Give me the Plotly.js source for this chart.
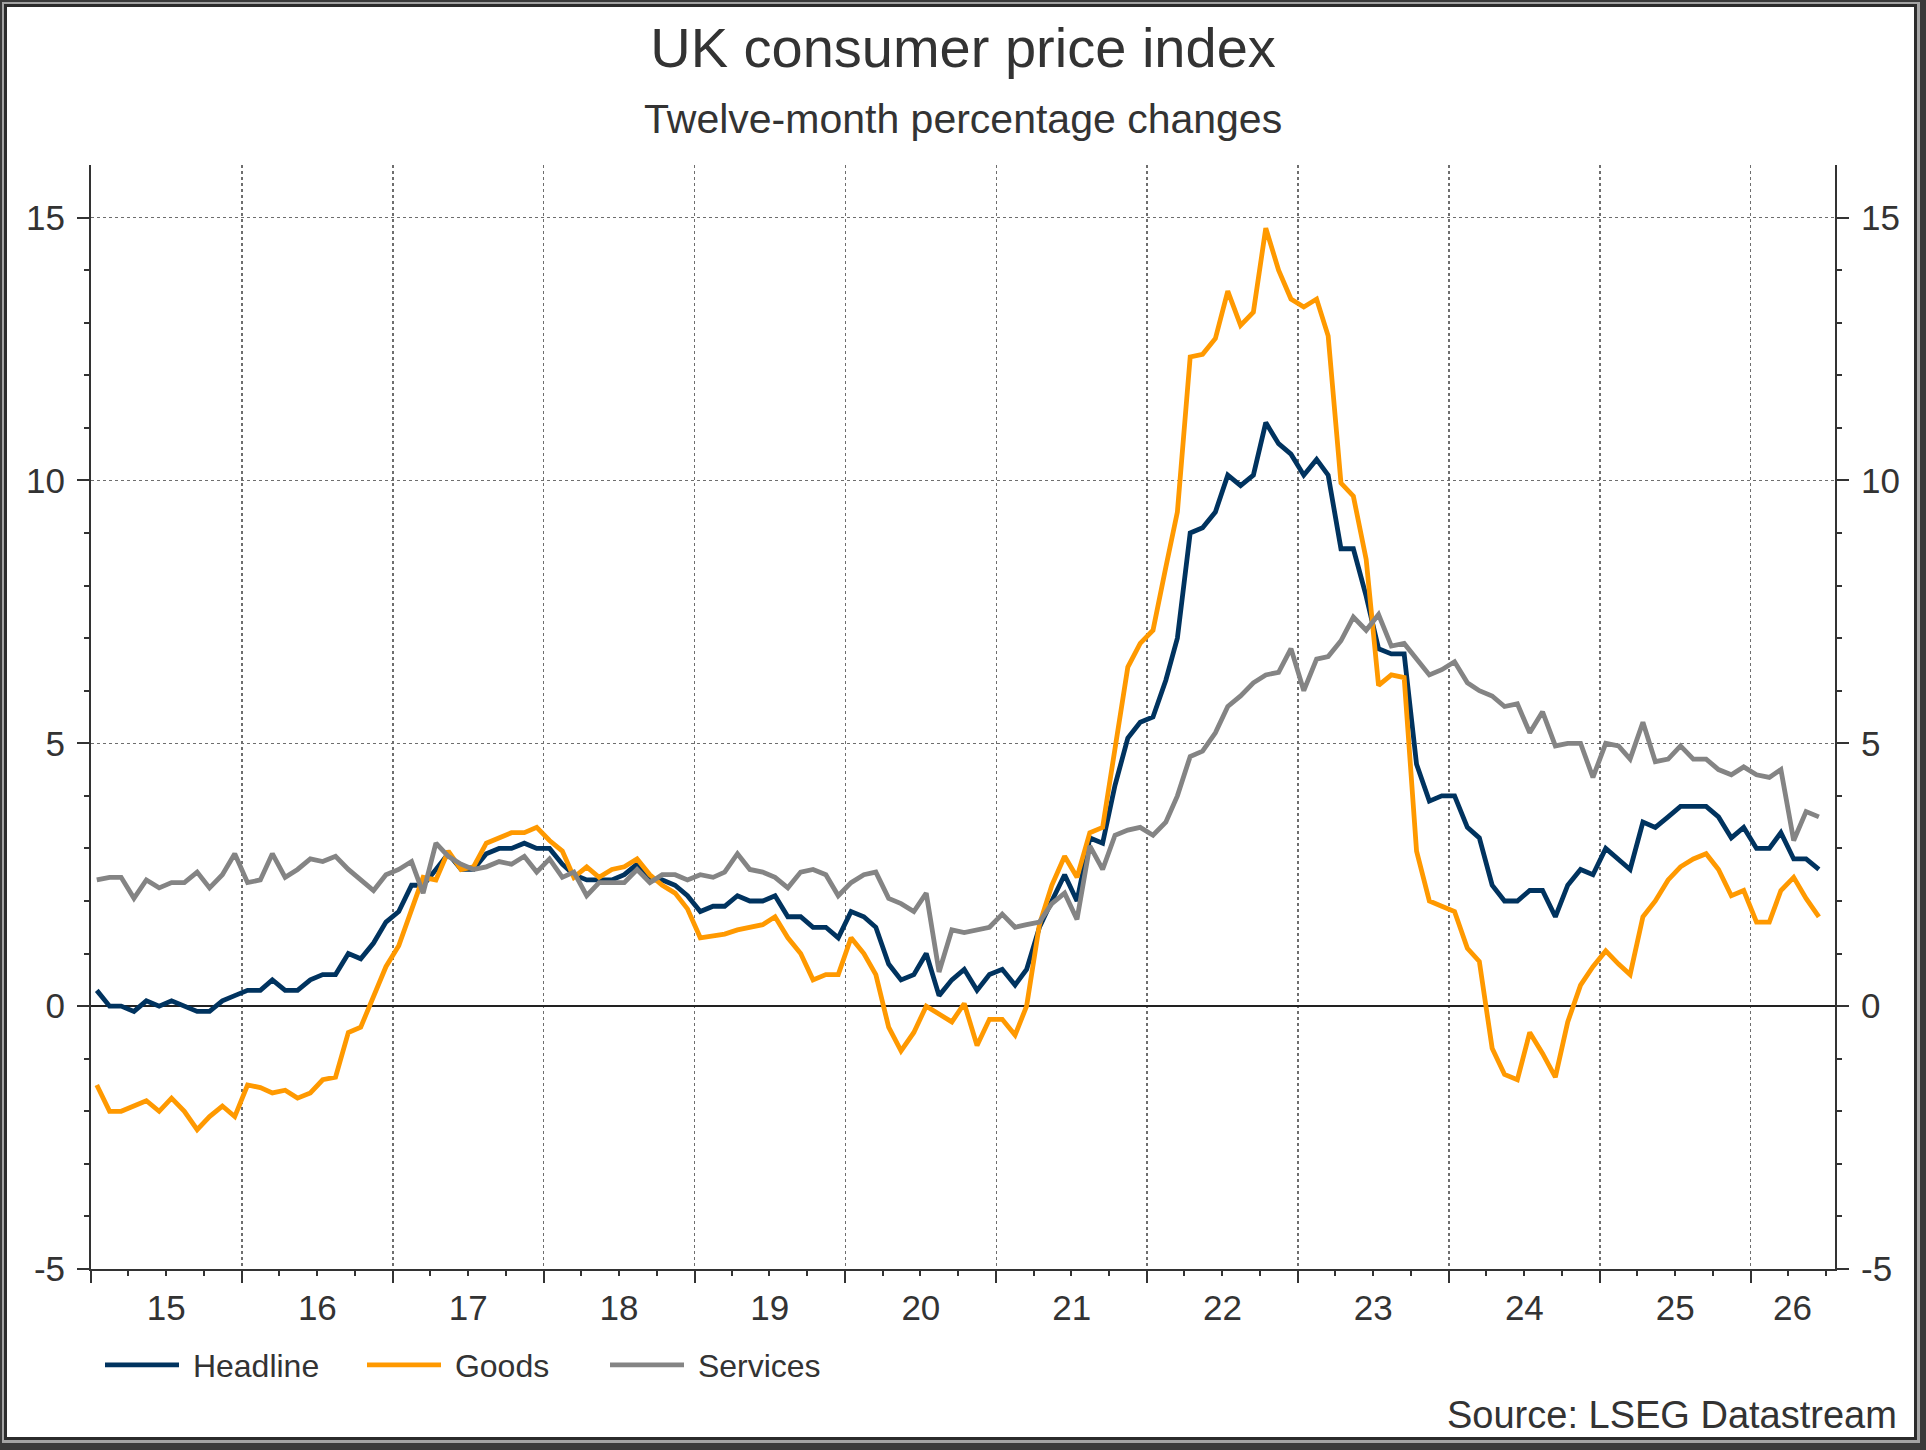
<!DOCTYPE html>
<html>
<head>
<meta charset="utf-8">
<script src="https://cdn.plot.ly/plotly-3.0.1.min.js"></script>
<style>
  html, body { margin: 0; padding: 0; background: #ffffff; }
  #wrap { position: relative; width: 1926px; height: 1450px; overflow: hidden; background: #3a3a3a; }
  #gap { position: absolute; left: 2px; top: 2px; width: 1918px; height: 1441px; background: #a3a3a3; }
  #panel { position: absolute; left: 4px; top: 4px; width: 1913px; height: 1436px; box-sizing: border-box;
           border: 3px solid #2b2b2b; background: #ffffff; }
  #chart { position: absolute; left: 0; top: 0; width: 1926px; height: 1450px; }
</style>
</head>
<body>
<div id="wrap">
  <div id="gap"></div>
  <div id="panel"></div>
  <div id="chart"></div>
</div>
<script>
// Monthly twelve-month CPI inflation rates, January 2015 to June 2026 (one row per year)
const headline = [
   0.3,  0.0,  0.0, -0.1,  0.1,  0.0,  0.1,  0.0, -0.1, -0.1,  0.1,  0.2,  // 2015
   0.3,  0.3,  0.5,  0.3,  0.3,  0.5,  0.6,  0.6,  1.0,  0.9,  1.2,  1.6,  // 2016
   1.8,  2.3,  2.3,  2.6,  2.9,  2.6,  2.6,  2.9,  3.0,  3.0,  3.1,  3.0,  // 2017
   3.0,  2.7,  2.5,  2.4,  2.4,  2.4,  2.5,  2.7,  2.4,  2.4,  2.3,  2.1,  // 2018
   1.8,  1.9,  1.9,  2.1,  2.0,  2.0,  2.1,  1.7,  1.7,  1.5,  1.5,  1.3,  // 2019
   1.8,  1.7,  1.5,  0.8,  0.5,  0.6,  1.0,  0.2,  0.5,  0.7,  0.3,  0.6,  // 2020
   0.7,  0.4,  0.7,  1.5,  2.0,  2.5,  2.0,  3.2,  3.1,  4.2,  5.1,  5.4,  // 2021
   5.5,  6.2,  7.0,  9.0,  9.1,  9.4, 10.1,  9.9, 10.1, 11.1, 10.7, 10.5,  // 2022
  10.1, 10.4, 10.1,  8.7,  8.7,  7.8,  6.8,  6.7,  6.7,  4.6,  3.9,  4.0,  // 2023
   4.0,  3.4,  3.2,  2.3,  2.0,  2.0,  2.2,  2.2,  1.7,  2.3,  2.6,  2.5,  // 2024
   3.0,  2.8,  2.6,  3.5,  3.4,  3.6,  3.8,  3.8,  3.8,  3.6,  3.2,  3.4,  // 2025
   3.0,  3.0,  3.3,  2.8,  2.8,  2.6                                        // 2026
];

const goods = [
  -1.5, -2.0, -2.0, -1.9, -1.8, -2.0, -1.75, -2.0, -2.35, -2.1, -1.9, -2.1, // 2015
  -1.5, -1.55, -1.65, -1.6, -1.75, -1.65, -1.4, -1.35, -0.5, -0.4, 0.2, 0.75, // 2016
   1.15, 1.8,  2.45, 2.4,  2.95, 2.6,  2.65, 3.1,  3.2,  3.3,  3.3,  3.4,  // 2017
   3.15, 2.95, 2.45, 2.65, 2.45, 2.6,  2.65, 2.8,  2.5,  2.3,  2.15, 1.85, // 2018
   1.3,  1.33, 1.37, 1.45, 1.5,  1.55, 1.7,  1.3,  1.0,  0.5,  0.6,  0.6,  // 2019
   1.3,  1.0,  0.6, -0.4, -0.85, -0.5, 0.0, -0.15, -0.3, 0.05, -0.75, -0.25, // 2020
  -0.25, -0.55, 0.0, 1.55, 2.3,  2.85, 2.45, 3.3,  3.4,  4.9,  6.45, 6.9,  // 2021
   7.15, 8.35, 9.4, 12.35, 12.4, 12.7, 13.6, 12.95, 13.2, 14.8, 14.0, 13.45, // 2022
  13.3, 13.45, 12.75, 9.95, 9.7, 8.5,  6.1,  6.3,  6.25, 2.95, 2.0,  1.9,  // 2023
   1.8,  1.1,  0.85, -0.8, -1.3, -1.4, -0.5, -0.9, -1.35, -0.3, 0.4, 0.75, // 2024
   1.05, 0.8,  0.6,  1.7,  2.0,  2.4,  2.65, 2.8,  2.9,  2.6,  2.1,  2.2,  // 2025
   1.6,  1.6,  2.2,  2.45, 2.05, 1.7                                       // 2026
];

const services = [
   2.4,  2.45, 2.45, 2.05, 2.4,  2.25, 2.35, 2.35, 2.55, 2.25, 2.5,  2.9,  // 2015
   2.35, 2.4,  2.9,  2.45, 2.6,  2.8,  2.75, 2.85, 2.6,  2.4,  2.2,  2.5,  // 2016
   2.6,  2.75, 2.15, 3.1,  2.85, 2.7,  2.6,  2.65, 2.75, 2.7,  2.85, 2.55, // 2017
   2.8,  2.45, 2.55, 2.1,  2.35, 2.35, 2.35, 2.6,  2.35, 2.5,  2.5,  2.4,  // 2018
   2.5,  2.45, 2.55, 2.9,  2.6,  2.55, 2.45, 2.25, 2.55, 2.6,  2.5,  2.1,  // 2019
   2.35, 2.5,  2.55, 2.05, 1.95, 1.8,  2.15, 0.65, 1.45, 1.4,  1.45, 1.5,  // 2020
   1.75, 1.5,  1.55, 1.6,  1.95, 2.15, 1.65, 3.05, 2.6,  3.25, 3.35, 3.4,  // 2021
   3.25, 3.5,  4.0,  4.75, 4.85, 5.2,  5.7,  5.9,  6.15, 6.3,  6.35, 6.8,  // 2022
   6.0,  6.6,  6.65, 6.95, 7.4,  7.15, 7.45, 6.85, 6.9,  6.6,  6.3,  6.4,  // 2023
   6.55, 6.15, 6.0,  5.9,  5.7,  5.75, 5.2,  5.6,  4.95, 5.0,  5.0,  4.35, // 2024
   5.0,  4.95, 4.7,  5.4,  4.65, 4.7,  4.95, 4.7,  4.7,  4.5,  4.4,  4.55, // 2025
   4.4,  4.35, 4.5,  3.15, 3.7,  3.6                                       // 2026
];

// Year labels, each centred on its year (the last one on the visible part of 2026)
const yearLabels = ['15', '16', '17', '18', '19', '20', '21', '22', '23', '24', '25', '26'];
const yearLabelDates = ['2015-07-02', '2016-07-02', '2017-07-02', '2018-07-02', '2019-07-02', '2020-07-02',
                        '2021-07-02', '2022-07-02', '2023-07-02', '2024-07-02', '2025-07-02', '2026-04-12'];
const yTickValues = [-5, 0, 5, 10, 15];
const yTickLabels = ['-5', '0', '5', '10', '15'];
const yMinorTickValues = [-4, -3, -2, -1, 1, 2, 3, 4, 6, 7, 8, 9, 11, 12, 13, 14];
const seriesNames = ['Headline', 'Goods', 'Services'];

// Mid-month dates for each observation
const months = [];
for (let i = 0; i < headline.length; i++) {
  const yr = 2015 + Math.floor(i / 12);
  const mo = (i % 12) + 1;
  months.push(yr + '-' + String(mo).padStart(2, '0') + '-15');
}

const FONT = '"Liberation Sans", Arial, Helvetica, sans-serif';
const INK = '#333333';
const X_RANGE = ['2015-01-01', '2026-07-24'];
const Y_RANGE = [-5, 16];
const NBSP = '\u00a0';

// Headline and goods sit on the main axes; services uses the overlaid axis pair
// (same ranges) that carries the year labels and the right-hand scale.
const lineTrace = (name, y, color, legendId, xa, ya) => ({
  type: 'scatter', mode: 'lines', name: NBSP + name, x: months, y: y,
  xaxis: xa, yaxis: ya,
  line: { color: color, width: 4.8, shape: 'linear' },
  legend: legendId, hoverinfo: 'skip'
});

const traces = [
  lineTrace(seriesNames[0], headline, '#00335f', 'legend', 'x', 'y'),
  lineTrace(seriesNames[1], goods, '#ff9900', 'legend2', 'x', 'y'),
  lineTrace(seriesNames[2], services, '#848484', 'legend3', 'x2', 'y2')
];

const legendBase = {
  orientation: 'h', xref: 'container', yref: 'container', xanchor: 'left', yanchor: 'middle',
  y: 1 - 1365 / 1450, font: { family: FONT, size: 32, color: INK },
  bgcolor: 'rgba(0,0,0,0)', borderwidth: 0, itemwidth: 74, itemclick: false, itemdoubleclick: false
};

const yAxisBase = {
  range: Y_RANGE, tickmode: 'array', tickvals: yTickValues, ticktext: yTickLabels,
  ticks: 'outside', ticklen: 12, tickwidth: 2, tickcolor: INK,
  minor: { tickmode: 'array', tickvals: yMinorTickValues, ticks: 'outside', ticklen: 5, tickwidth: 2,
           tickcolor: INK, showgrid: false },
  showline: true, linecolor: INK, linewidth: 2,
  tickfont: { family: FONT, size: 35, color: INK },
  ticklabelstandoff: 5, fixedrange: true
};

const layout = {
  width: 1926, height: 1450,
  paper_bgcolor: 'rgba(0,0,0,0)', plot_bgcolor: 'rgba(0,0,0,0)',
  margin: { l: 91, r: 91, t: 165, b: 181, pad: 0 },
  font: { family: FONT, color: INK, size: 35 },
  showlegend: true,
  hovermode: false,
  title: {
    text: 'UK consumer price index',
    font: { family: FONT, size: 56, color: INK },
    x: 0.5, xanchor: 'center', xref: 'container',
    y: 1 - 28 / 1450, yanchor: 'top', yref: 'container'
  },
  xaxis: {
    type: 'date', range: X_RANGE,
    tickmode: 'linear', tick0: '2015-01-01', dtick: 'M12',
    showticklabels: false,
    ticks: 'outside', ticklen: 12, tickwidth: 2, tickcolor: INK,
    minor: { tickmode: 'linear', tick0: '2015-01-01', dtick: 'M3', ticks: 'outside', ticklen: 5, tickwidth: 2,
             tickcolor: INK, showgrid: false },
    showline: true, linecolor: INK, linewidth: 2,
    showgrid: true, gridcolor: '#6e6e6e', gridwidth: 1.5, griddash: 'dot',
    zeroline: false, fixedrange: true
  },
  xaxis2: {
    type: 'date', range: X_RANGE, overlaying: 'x', anchor: 'y2', side: 'bottom',
    tickmode: 'array', tickvals: yearLabelDates, ticktext: yearLabels,
    ticks: '', showline: false, showgrid: false, zeroline: false,
    tickfont: { family: FONT, size: 35, color: INK },
    ticklabelstandoff: 15, fixedrange: true
  },
  yaxis: Object.assign({}, yAxisBase, {
    side: 'left',
    showgrid: true, gridcolor: '#6e6e6e', gridwidth: 1.5, griddash: 'dot',
    zeroline: true, zerolinecolor: '#222222', zerolinewidth: 2
  }),
  yaxis2: Object.assign({}, yAxisBase, {
    side: 'right', overlaying: 'y', anchor: 'x2',
    showgrid: false, zeroline: false
  }),
  legend: Object.assign({}, legendBase, { x: 100 / 1926 }),
  legend2: Object.assign({}, legendBase, { x: 362 / 1926 }),
  legend3: Object.assign({}, legendBase, { x: 605 / 1926 }),
  annotations: [
    {
      text: 'Twelve-month percentage changes', showarrow: false,
      xref: 'paper', yref: 'paper', x: 0.5, y: (1269 - 119) / 1104,
      xanchor: 'center', yanchor: 'middle',
      font: { family: FONT, size: 41, color: INK }
    },
    {
      text: 'Source: LSEG Datastream', showarrow: false,
      xref: 'paper', yref: 'paper', x: (1899 - 91) / 1744, y: (1269 - 1415) / 1104,
      xanchor: 'right', yanchor: 'middle',
      font: { family: FONT, size: 38, color: INK }
    }
  ]
};

Plotly.newPlot('chart', traces, layout, { displayModeBar: false, staticPlot: true });
</script>
</body>
</html>
